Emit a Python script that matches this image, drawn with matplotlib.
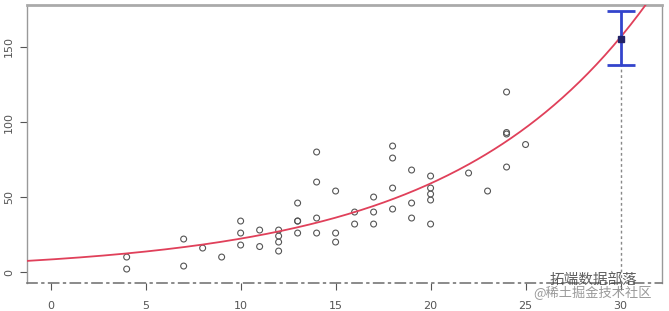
import numpy as np
import matplotlib.pyplot as plt

plt.rcParams['font.family'] = ['DejaVu Sans']

# cars data (speed vs stopping distance)
speed = [4, 4, 7, 7, 8, 9, 10, 10, 10, 11, 11, 12, 12, 12, 12, 13, 13, 13, 13,
         14, 14, 14, 14, 15, 15, 15, 16, 16, 17, 17, 17, 18, 18, 18, 18, 19, 19,
         19, 20, 20, 20, 20, 20, 22, 23, 24, 24, 24, 24, 25]
dist = [2, 10, 4, 22, 16, 10, 18, 26, 34, 17, 28, 14, 20, 24, 28, 26, 34, 34, 46,
        26, 36, 60, 80, 20, 26, 54, 32, 40, 32, 40, 50, 42, 56, 76, 84, 36, 46,
        68, 32, 48, 52, 56, 64, 66, 54, 70, 92, 93, 120, 85]

# fitted exponential curve
fit_a = 8.4
fit_b = 0.0975

# prediction at speed 30 with interval
pred_x = 30
pred_y = 155
pred_lo = 138
pred_hi = 174

xticks = [0, 5, 10, 15, 20, 25, 30]
yticks = [0, 50, 100, 150]

fig = plt.figure(figsize=(6.69, 3.11), dpi=100)
ax = fig.add_axes([0.040, 0.090, 0.950, 0.894])

xlim = (-1.26, 32.2)
ylim = (-7.3, 178)

ax.scatter(speed, dist, s=18, facecolors='none', edgecolors='#555555', linewidths=0.8, zorder=3)

xs = np.linspace(xlim[0], xlim[1], 300)
ax.plot(xs, fit_a * np.exp(fit_b * xs), color='#e0405a', lw=1.3, zorder=4)

ax.plot([pred_x, pred_x], [ylim[0], pred_lo], color='#888888', lw=1, ls=(0, (2, 2)), zorder=2)
ax.errorbar([pred_x], [pred_y], yerr=[[pred_y - pred_lo], [pred_hi - pred_y]],
            fmt='s', color='#3344cc', ecolor='#3344cc', elinewidth=2, capsize=10,
            capthick=2, markersize=4, markerfacecolor='#222266', markeredgecolor='#222266', zorder=5)

ax.set_xlim(*xlim)
ax.set_ylim(*ylim)
ax.set_xticks(xticks)
ax.set_yticks(yticks)
ax.set_yticklabels([str(v) for v in yticks], rotation=90, va='center')
ax.tick_params(colors='#555555', labelcolor='#555555', labelsize=8, length=5, width=0.8)
ax.tick_params(axis='x', pad=8)
ax.tick_params(axis='y', pad=4)

for side in ['left', 'right']:
    ax.spines[side].set_color('#999999')
    ax.spines[side].set_linewidth(1.0)
ax.spines['top'].set_color('#aaaaaa')
ax.spines['top'].set_linewidth(2.0)
ax.spines['bottom'].set_color('#777777')
ax.spines['bottom'].set_linestyle((0, (6, 3, 1, 3)))
ax.spines['bottom'].set_linewidth(1.2)

# watermark
fig.text(0.822, 0.10, '拓端数据部落', family=['Noto Sans CJK SC', 'DejaVu Sans'],
         fontsize=10.5, color='#444444', alpha=0.85, va='center', zorder=10)
fig.text(0.797, 0.058, '@稀土掘金技术社区', family=['Noto Sans CJK SC', 'DejaVu Sans'],
         fontsize=9.5, color='#888888', alpha=0.85, va='center', zorder=10)

fig.savefig('out.png', dpi=100)
